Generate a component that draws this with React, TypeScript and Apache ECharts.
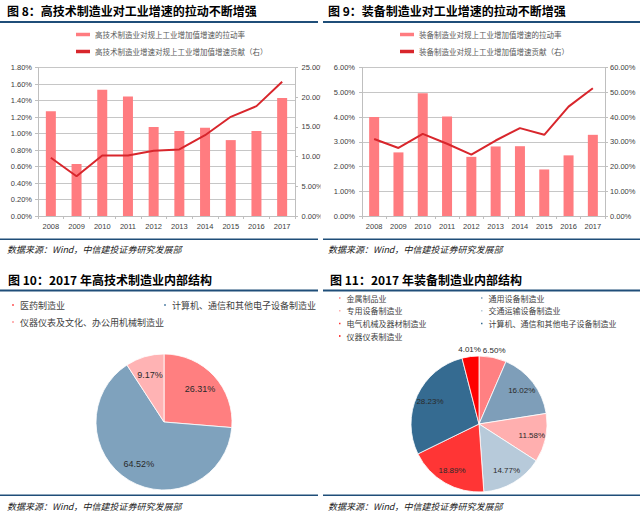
import React, { useEffect, useRef } from 'react';
import * as echarts from 'echarts';

// ---------- data ----------
const years = ['2008', '2009', '2010', '2011', '2012', '2013', '2014', '2015', '2016', '2017'];

const hiTechPullName = '高技术制造业对规上工业增加值增速的拉动率';
const hiTechContribName = '高技术制造业增速对规上工业增加值增速贡献（右）';
const hiTechPull = [1.27, 0.63, 1.53, 1.45, 1.08, 1.03, 1.07, 0.92, 1.03, 1.43];
const hiTechContrib = [9.8, 6.7, 10.2, 10.2, 11.0, 11.2, 13.6, 16.7, 18.5, 22.6];

const equipPullName = '装备制造业对规上工业增加值增速的拉动率';
const equipContribName = '装备制造业对规上工业增加值增速贡献（右）';
const equipPull = [4.0, 2.57, 4.96, 4.02, 2.39, 2.81, 2.82, 1.88, 2.45, 3.28];
const equipContrib = [31.1, 27.5, 33.2, 29.2, 24.8, 30.5, 35.5, 32.8, 44.2, 51.6];

const hiTechParts = ['医药制造业', '计算机、通信和其他电子设备制造业', '仪器仪表及文化、办公用机械制造业'];
const hiTechShares = [26.31, 64.52, 9.17];
const hiTechColors = ['#FF7F80', '#7FA2BD', '#FFB3B4'];

const equipParts = [
  '金属制品业',
  '通用设备制造业',
  '专用设备制造业',
  '交通运输设备制造业',
  '电气机械及器材制造业',
  '计算机、通信和其他电子设备制造业',
  '仪器仪表制造业',
];
const equipShares = [6.5, 16.02, 11.58, 14.77, 18.89, 28.23, 4.01];
const equipColors = ['#FF8082', '#7E9EB9', '#FFAFAF', '#B7CADA', '#FF3535', '#356B91', '#FF0000'];
const equipOutsideLabels = [0, 6];

const sourceText = '数据来源：Wind，中信建投证券研究发展部';

// ---------- styles ----------
const CJK = '"Noto Sans CJK SC", "Noto Sans", sans-serif';
const NUM = '"Liberation Sans", Arial, sans-serif';
const axisGray = '#BFBFBF';
const labelGray = '#404040';
const barColor = '#FF7C80';
const lineColor = '#D8262C';
const ruleBlue = '#1F4E79';

const pct2 = (v: number) => v.toFixed(2) + '%';

function makeX(gridIndex: number) {
  return {
    type: 'category',
    gridIndex,
    data: years,
    boundaryGap: true,
    axisLine: { show: true, lineStyle: { color: axisGray, width: 1 } },
    axisTick: { show: true, length: 3, lineStyle: { color: axisGray } },
    axisLabel: { fontSize: 7.5, color: labelGray, fontFamily: NUM, margin: 6, interval: 0 },
    splitLine: { show: false },
  };
}

function makeY(gridIndex: number, position: string, max: number, interval: number, split: boolean, margin: number) {
  return {
    type: 'value',
    gridIndex,
    position,
    min: 0,
    max,
    interval,
    axisLine: { show: true, lineStyle: { color: axisGray, width: 1 } },
    axisTick: { show: true, length: 3, lineStyle: { color: axisGray } },
    axisLabel: { fontSize: 7.5, color: labelGray, fontFamily: NUM, margin, formatter: pct2 },
    splitLine: { show: split, lineStyle: { color: '#C6C6C6', width: 1 } },
  };
}

function legendFor(left: number, top: number, names: string[]) {
  return {
    left,
    top,
    padding: 0,
    orient: 'vertical',
    icon: 'rect',
    itemWidth: 14,
    itemHeight: 3.5,
    itemGap: 8,
    selectedMode: false,
    textStyle: { fontSize: 7.5, color: '#595959', fontFamily: CJK, lineHeight: 9 },
    data: names,
  };
}

function pieLegend(left: number, top: number, names: string[], colors: string[], size: number, fontSize: number, lineHeight: number, gap: number) {
  return {
    left,
    top,
    padding: 0,
    orient: 'vertical',
    icon: 'rect',
    itemWidth: size,
    itemHeight: size,
    itemGap: gap,
    selectedMode: false,
    textStyle: { fontSize, color: labelGray, fontFamily: CJK, lineHeight },
    data: names.map((n, i) => ({ name: n, itemStyle: { color: colors[i] } })),
  };
}

function text(x: number, y: number, t: string, opts: any = {}) {
  return {
    type: 'text',
    x,
    y,
    z: 110,
    style: {
      text: t,
      fill: opts.fill || '#000',
      fontSize: opts.fontSize || 12,
      fontWeight: opts.fontWeight || 'normal',
      fontStyle: opts.fontStyle || 'normal',
      fontFamily: opts.fontFamily || CJK,
      verticalAlign: 'middle',
      align: 'left',
    },
  };
}

function rule(x: number, y: number, w: number, h: number) {
  return { type: 'rect', z: 110, shape: { x, y, width: w, height: h }, style: { fill: ruleBlue } };
}

function buildOption() {
  const pieBase = {
    type: 'pie',
    startAngle: 90,
    clockwise: true,
    silent: true,
    avoidLabelOverlap: false,
    emphasis: { disabled: true },
  };

  const hiTechData = hiTechParts.map((n, i) => ({ name: n, value: hiTechShares[i], itemStyle: { color: hiTechColors[i] } }));
  const equipData = equipParts.map((n, i) => ({ name: n, value: equipShares[i], itemStyle: { color: equipColors[i] } }));
  const transparent = { color: 'rgba(0,0,0,0)', borderWidth: 0 };
  const valueLabel = (p: any) => Number(p.value).toFixed(2) + '%';

  return {
    animation: false,
    backgroundColor: '#ffffff',
    grid: [
      { left: 38, top: 67.5, width: 257, height: 148.5 },
      { left: 362, top: 67.5, width: 243, height: 148.5 },
    ],
    xAxis: [makeX(0), makeX(1)],
    yAxis: [
      makeY(0, 'left', 1.8, 0.2, true, 6),
      makeY(0, 'right', 25, 5, false, 6.5),
      makeY(1, 'left', 6, 1, true, 7),
      makeY(1, 'right', 60, 10, false, 5),
    ],
    legend: [
      legendFor(76, 30, [hiTechPullName, hiTechContribName]),
      legendFor(400, 30, [equipPullName, equipContribName]),
      pieLegend(10, 299, [hiTechParts[0], hiTechParts[2]], [hiTechColors[0], hiTechColors[2]], 4, 9, 12, 5),
      pieLegend(162, 299, [hiTechParts[1]], [hiTechColors[1]], 4, 9, 12, 5),
      pieLegend(337, 293, [equipParts[0], equipParts[2], equipParts[4], equipParts[6]],
        [equipColors[0], equipColors[2], equipColors[4], equipColors[6]], 3.5, 8, 10, 2.7),
      pieLegend(479, 293, [equipParts[1], equipParts[3], equipParts[5]],
        [equipColors[1], equipColors[3], equipColors[5]], 3.5, 8, 10, 2.7),
    ],
    series: [
      {
        name: hiTechPullName, type: 'bar', xAxisIndex: 0, yAxisIndex: 0, data: hiTechPull,
        barWidth: 10, itemStyle: { color: barColor }, silent: true,
      },
      {
        name: hiTechContribName, type: 'line', xAxisIndex: 0, yAxisIndex: 1, data: hiTechContrib,
        symbol: 'none', lineStyle: { color: lineColor, width: 2 }, itemStyle: { color: lineColor }, silent: true,
      },
      {
        name: equipPullName, type: 'bar', xAxisIndex: 1, yAxisIndex: 2, data: equipPull,
        barWidth: 10, itemStyle: { color: barColor }, silent: true,
      },
      {
        name: equipContribName, type: 'line', xAxisIndex: 1, yAxisIndex: 3, data: equipContrib,
        symbol: 'none', lineStyle: { color: lineColor, width: 2 }, itemStyle: { color: lineColor }, silent: true,
      },
      // pie 10
      {
        ...pieBase,
        center: [164, 422],
        radius: 68,
        label: { show: false },
        labelLine: { show: false },
        itemStyle: { borderColor: '#ffffff', borderWidth: 0.8 },
        data: hiTechData,
      },
      {
        ...pieBase,
        center: [164, 422],
        radius: [24, 68],
        itemStyle: transparent,
        labelLine: { show: false },
        label: { show: true, position: 'inner', formatter: valueLabel, fontSize: 9, color: '#2a2a2a', fontFamily: NUM },
        data: hiTechParts.map((n, i) => ({ name: n, value: hiTechShares[i] })),
      },
      // pie 11
      {
        ...pieBase,
        center: [479, 424],
        radius: 68,
        label: { show: false },
        labelLine: { show: false },
        itemStyle: { borderColor: '#ffffff', borderWidth: 0.8 },
        data: equipData,
      },
      {
        ...pieBase,
        center: [479, 424],
        radius: [34, 68],
        itemStyle: transparent,
        labelLine: { show: false },
        label: { show: true, position: 'inner', formatter: valueLabel, fontSize: 8, color: '#2a2a2a', fontFamily: NUM },
        data: equipParts.map((n, i) => ({
          name: n, value: equipShares[i], label: { show: equipOutsideLabels.indexOf(i) < 0 },
        })),
      },
      {
        ...pieBase,
        center: [479, 424],
        radius: [68, 76],
        itemStyle: transparent,
        labelLine: { show: false },
        label: { show: true, position: 'inner', formatter: valueLabel, fontSize: 8, color: '#2a2a2a', fontFamily: NUM },
        data: equipParts.map((n, i) => ({
          name: n, value: equipShares[i], label: { show: equipOutsideLabels.indexOf(i) >= 0 },
        })),
      },
    ],
    graphic: [
      // mask clipping the right-axis labels of fig. 8 at the panel edge
      { type: 'rect', z: 100, shape: { x: 320.5, y: 60, width: 8, height: 165 }, style: { fill: '#ffffff' } },
      text(7, 10, '图 8：高技术制造业对工业增速的拉动不断增强', { fontWeight: 'bold', fontSize: 12 }),
      text(328, 10, '图 9：装备制造业对工业增速的拉动不断增强', { fontWeight: 'bold', fontSize: 12 }),
      rule(0, 21, 318, 2),
      rule(323, 21, 317, 2),
      rule(0, 238.5, 318, 1.5),
      rule(323, 238.5, 317, 1.5),
      text(7, 249, sourceText, { fontSize: 9, fontStyle: 'italic', fill: '#222' }),
      text(328, 249, sourceText, { fontSize: 9, fontStyle: 'italic', fill: '#222' }),
      text(8, 279.5, '图 10：2017 年高技术制造业内部结构', { fontWeight: 'bold', fontSize: 12 }),
      text(330, 279.5, '图 11：2017 年装备制造业内部结构', { fontWeight: 'bold', fontSize: 12 }),
      rule(0, 289.5, 318, 2),
      rule(323, 289.5, 317, 2),
      rule(0, 494.5, 318, 1.5),
      rule(323, 494.5, 317, 1.5),
      text(7, 506, sourceText, { fontSize: 9, fontStyle: 'italic', fill: '#222' }),
      text(328, 506, sourceText, { fontSize: 9, fontStyle: 'italic', fill: '#222' }),
    ],
  };
}

export default function App() {
  const ref = useRef<HTMLDivElement>(null);
  useEffect(() => {
    document.body.style.margin = '0';
    if (!ref.current) return;
    const chart = echarts.init(ref.current, null, { renderer: 'svg' });
    chart.setOption(buildOption() as any);
    return () => chart.dispose();
  }, []);
  return (
    <div
      ref={ref}
      style={{ position: 'absolute', left: 0, top: 0, width: 640, height: 515, background: '#ffffff' }}
    />
  );
}
